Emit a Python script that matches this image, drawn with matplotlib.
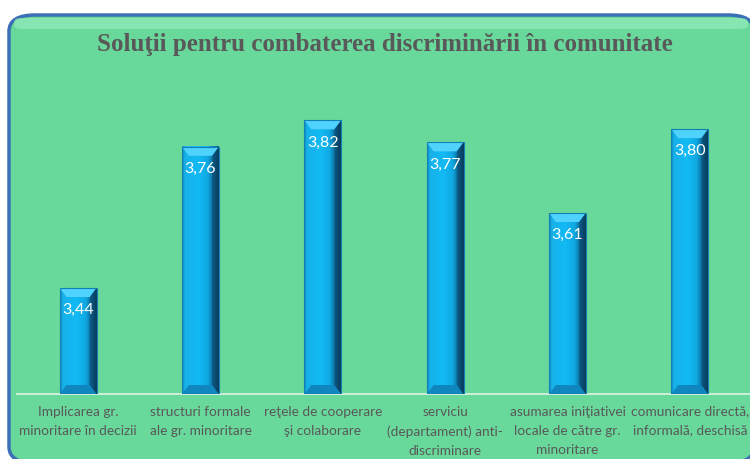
"""Soluţii pentru combaterea discriminării în comunitate - bevelled bar chart."""
import numpy as np
import matplotlib
matplotlib.use("Agg")
import matplotlib.pyplot as plt
from matplotlib.patches import FancyBboxPatch, Polygon
from matplotlib.colors import LinearSegmentedColormap

categories = [
    "Implicarea gr.\nminoritare în decizii",
    "structuri formale\nale gr. minoritare",
    "reţele de cooperare\nşi colaborare",
    "serviciu\n(departament) anti-\ndiscriminare",
    "asumarea iniţiativei\nlocale de către gr.\nminoritare",
    "comunicare directă,\ninformală, deschisă",
]
values = [3.44, 3.76, 3.82, 3.77, 3.61, 3.80]
value_labels = ["3,44", "3,76", "3,82", "3,77", "3,61", "3,80"]
title = "Soluţii pentru combaterea discriminării în comunitate"

Y_MIN, Y_MAX = 3.2, 3.9
BAR_W = 0.30
GREEN = "#68d89b"
TEXT = "#595959"

# horizontal shading across a bar: slightly dark left edge, bright body, dark right side
body_cmap = LinearSegmentedColormap.from_list(
    "body",
    [(0.0, "#1588c0"), (0.08, "#17b2ea"), (0.45, "#12baf4"),
     (0.70, "#10a8e2"), (0.85, "#0b6c9c"), (1.0, "#093a58")],
)

fig = plt.figure(figsize=(7.5, 4.6), dpi=100)
fig.patch.set_facecolor("white")

# rounded green panel with blue border (runs slightly past the right/bottom edge)
panel = FancyBboxPatch(
    (9 / 750, -4 / 460), 745 / 750, 448 / 460,
    boxstyle="round,pad=0,rounding_size=0.035",
    transform=fig.transFigure, facecolor=GREEN, edgecolor="#3b6fb6",
    linewidth=2.5, zorder=-2,
)
fig.patches.append(panel)
# soft highlight just under the top border
hl = FancyBboxPatch(
    (14 / 750, 430 / 460), 734 / 750, 11 / 460,
    boxstyle="round,pad=0,rounding_size=0.01",
    transform=fig.transFigure, facecolor="#8fe9b8", edgecolor="none",
    alpha=0.8, zorder=-1,
)
fig.patches.append(hl)

fig.text(385 / 750, 1 - 45 / 460, title, ha="center", va="center",
         family="Liberation Serif", fontweight="bold", fontsize=18, color=TEXT)

ax = fig.add_axes([17 / 750, 65 / 460, 734 / 750, 309 / 460])
ax.set_facecolor("none")
ax.set_xlim(0, len(values))
ax.set_ylim(Y_MIN, Y_MAX)
for s in ax.spines.values():
    s.set_visible(False)
ax.set_xticks([])
ax.set_yticks([])
ax.axhline(Y_MIN, color="#d8f0e2", linewidth=1.3, zorder=1, clip_on=False)

grad = body_cmap(np.linspace(0, 1, 64))[None, :, :3]
bevel_h = 9 / 442                # about 9 px in value units
bevel_x = 0.055                  # horizontal inset of the bevel

for i, (v, lab) in enumerate(zip(values, value_labels)):
    xc = i + 0.5
    x0, x1 = xc - BAR_W / 2, xc + BAR_W / 2
    ax.imshow(grad, extent=(x0, x1, Y_MIN, v), aspect="auto",
              interpolation="bilinear", zorder=2)
    # top bevel (lighter) and bottom bevel (darker)
    ax.add_patch(Polygon([(x0, v), (x1, v), (x1 - bevel_x, v - bevel_h),
                          (x0 + bevel_x, v - bevel_h)],
                         closed=True, facecolor="#4fd2fb", edgecolor="none", zorder=3))
    ax.add_patch(Polygon([(x0, Y_MIN), (x1, Y_MIN), (x1 - bevel_x, Y_MIN + bevel_h),
                          (x0 + bevel_x, Y_MIN + bevel_h)],
                         closed=True, facecolor="#0f86bd", edgecolor="none", zorder=3))
    ax.add_patch(Polygon([(x1, v), (x1, Y_MIN), (x1 - bevel_x, Y_MIN + bevel_h),
                          (x1 - bevel_x, v - bevel_h)],
                         closed=True, facecolor="#0a3f60", edgecolor="none",
                         alpha=0.45, zorder=3))
    ax.add_patch(plt.Rectangle((x0, Y_MIN), BAR_W, v - Y_MIN, fill=False,
                               edgecolor="#1380b5", linewidth=0.8, zorder=4))
    ax.text(xc, v - 0.048, lab, ha="center", va="center", color="white",
            fontsize=11.5, family="Lato", zorder=5)
    ax.text(xc, Y_MIN - 0.024, categories[i], ha="center", va="top",
            color=TEXT, fontsize=9.8, family="Lato", linespacing=1.7)

fig.savefig("out.png", dpi=100)
